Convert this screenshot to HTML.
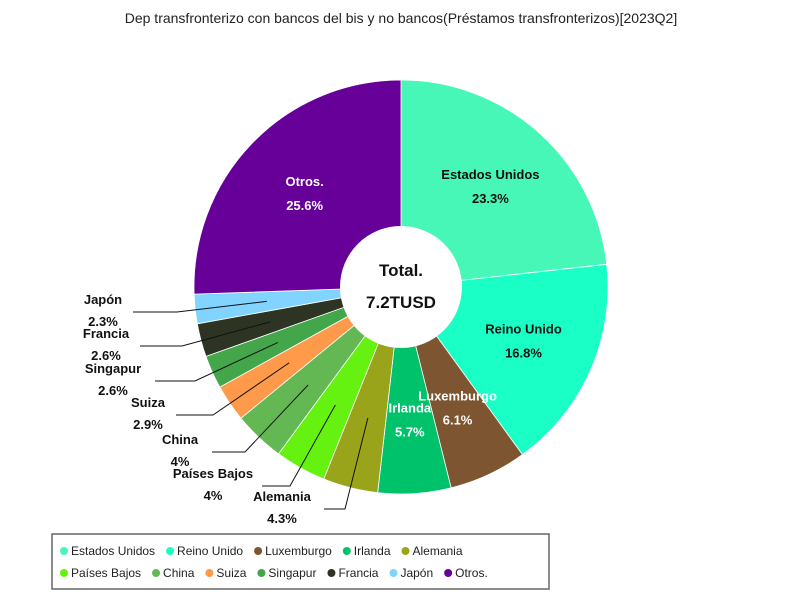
<!DOCTYPE html>
<html><head><meta charset="utf-8"><style>
body{margin:0;background:#fff;}
svg text{font-family:"Liberation Sans",sans-serif;}
</style></head><body>
<svg id="chart" width="800" height="600">
<text x="401" y="23" text-anchor="middle" font-size="14" fill="#222">Dep transfronterizo con bancos del bis y no bancos(Préstamos transfronterizos)[2023Q2]</text>
<g id="slices"></g>
<g id="labels"></g>
<circle cx="401" cy="287" r="61" fill="#fff"/>
<text x="401" y="276" text-anchor="middle" font-size="17" font-weight="bold" fill="#111">Total.</text>
<text x="401" y="308" text-anchor="middle" font-size="17" font-weight="bold" fill="#111">7.2TUSD</text>
<rect x="52" y="534" width="497" height="55" fill="#fff" stroke="#666" stroke-width="1.5"/>
<g id="legend"></g>
</svg>
<script>
const categories=["Estados Unidos","Reino Unido","Luxemburgo","Irlanda","Alemania","Países Bajos","China","Suiza","Singapur","Francia","Japón","Otros."];
const values=[23.3,16.8,6.1,5.7,4.3,4,4,2.9,2.6,2.6,2.3,25.6];
const valueLabels=["23.3%","16.8%","6.1%","5.7%","4.3%","4%","4%","2.9%","2.6%","2.6%","2.3%","25.6%"];
const colors=["#46f7b7","#1affc6","#7d5530","#00c26a","#9aa41a","#66f211","#64b853","#ff9a4a","#44a64a","#2d3424","#80d4ff","#660099"];
const insideText=["#111","#111","#fff","#fff",null,null,null,null,null,null,null,"#fff"];
// outside label layout: [elbowX, lineY, endX, textX]
const outLayout={4:[345,509,324,282],5:[290,486,262,213],6:[245,452,212,180],7:[213,415,176,148],8:[195,381,155,113],9:[182,346,140,106],10:[177,312,133,103]};
const NS="http://www.w3.org/2000/svg";
const cx=401,cy=287,R=207,RI=61;
const total=values.reduce((a,b)=>a+b,0);
function pt(a,r){return [cx+r*Math.sin(a),cy-r*Math.cos(a)];}
const sg=document.getElementById('slices'),lg=document.getElementById('labels');
let acc=0;
values.forEach((v,i)=>{
 const a0=acc/total*2*Math.PI;acc+=v;const a1=acc/total*2*Math.PI;
 const [x0,y0]=pt(a0,R),[x1,y1]=pt(a1,R);
 const p=document.createElementNS(NS,'path');
 p.setAttribute('d',`M${cx},${cy}L${x0},${y0}A${R},${R} 0 ${a1-a0>Math.PI?1:0} 1 ${x1},${y1}Z`);
 p.setAttribute('fill',colors[i]);p.setAttribute('stroke','#fff');p.setAttribute('stroke-width','0.8');
 
 
 sg.appendChild(p);
 const am=(a0+a1)/2;
 if(insideText[i]){
  const [lx,ly]=pt(am,134);
  [[categories[i],ly-8],[valueLabels[i],ly+16]].forEach((t,k)=>{
   const e=document.createElementNS(NS,'text');
   e.setAttribute('x',lx);e.setAttribute('y',t[1]);e.setAttribute('text-anchor','middle');
   e.setAttribute('font-size','13');e.setAttribute('font-weight','bold');e.setAttribute('fill',insideText[i]);
   e.textContent=t[0];
   
   
   lg.appendChild(e);
  });
 } else {
  const L=outLayout[i];const [px,py]=pt(am,135);
  const pl=document.createElementNS(NS,'polyline');
  pl.setAttribute('points',`${px},${py} ${L[0]},${L[1]} ${L[2]},${L[1]}`);
  pl.setAttribute('fill','none');pl.setAttribute('stroke','#111');pl.setAttribute('stroke-width','1');
  
  
  lg.appendChild(pl);
  [[categories[i],L[1]-8],[valueLabels[i],L[1]+14]].forEach((t,k)=>{
   const e=document.createElementNS(NS,'text');
   e.setAttribute('x',L[3]);e.setAttribute('y',t[1]);e.setAttribute('text-anchor','middle');
   e.setAttribute('font-size','13');e.setAttribute('font-weight','bold');e.setAttribute('fill','#111');
   e.textContent=t[0];
   
   
   lg.appendChild(e);
  });
 }
});
const leg=document.getElementById('legend');
const ctx=document.createElement('canvas').getContext('2d');ctx.font='12px "Liberation Sans"';
let lx=60,ly=551;
categories.forEach((c,i)=>{
 const w=12+ctx.measureText(c).width+10;
 if(lx+w>545){lx=60;ly+=22;}
 const g=document.createElementNS(NS,'g');
 
 
 const ci=document.createElementNS(NS,'circle');
 ci.setAttribute('cx',lx+4);ci.setAttribute('cy',ly);ci.setAttribute('r','4');ci.setAttribute('fill',colors[i]);
 
 
 const t=document.createElementNS(NS,'text');
 t.setAttribute('x',lx+11);t.setAttribute('y',ly+4);t.setAttribute('font-size','12');t.setAttribute('fill','#222');
 t.textContent=c;
 
 
 g.appendChild(ci);g.appendChild(t);leg.appendChild(g);
 lx+=w;
});
</script>
</body></html>
